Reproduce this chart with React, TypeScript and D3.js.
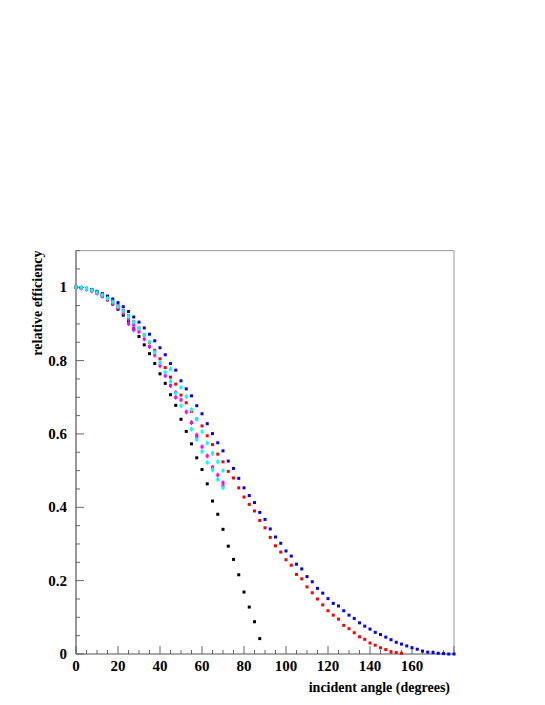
import React from "react";
import * as d3 from "d3";

const angles = [0, 2.5, 5, 7.5, 10, 12.5, 15, 17.5, 20, 22.5, 25, 27.5, 30, 32.5, 35, 37.5, 40, 42.5, 45, 47.5, 50, 52.5, 55, 57.5, 60, 62.5, 65, 67.5, 70, 72.5, 75, 77.5, 80, 82.5, 85, 87.5, 90, 92.5, 95, 97.5, 100, 102.5, 105, 107.5, 110, 112.5, 115, 117.5, 120, 122.5, 125, 127.5, 130, 132.5, 135, 137.5, 140, 142.5, 145, 147.5, 150, 152.5, 155, 157.5, 160, 162.5, 165, 167.5, 170, 172.5, 175, 177.5, 180];

const blackVals = [1.0, 0.999, 0.996, 0.991, 0.985, 0.976, 0.966, 0.954, 0.94, 0.924, 0.906, 0.887, 0.866, 0.843, 0.819, 0.792, 0.764, 0.738, 0.707, 0.678, 0.64, 0.607, 0.573, 0.535, 0.503, 0.464, 0.417, 0.381, 0.34, 0.294, 0.258, 0.216, 0.169, 0.128, 0.088, 0.042];

const redVals = [1.0, 0.999, 0.997, 0.993, 0.987, 0.98, 0.972, 0.961, 0.95, 0.937, 0.922, 0.906, 0.889, 0.87, 0.849, 0.828, 0.805, 0.781, 0.755, 0.736, 0.706, 0.685, 0.662, 0.641, 0.622, 0.595, 0.571, 0.545, 0.524, 0.498, 0.48, 0.453, 0.428, 0.408, 0.39, 0.364, 0.344, 0.318, 0.295, 0.278, 0.257, 0.242, 0.217, 0.205, 0.183, 0.167, 0.15, 0.134, 0.118, 0.106, 0.095, 0.078, 0.069, 0.058, 0.047, 0.04, 0.03, 0.024, 0.017, 0.012, 0.006, 0.004, 0.002];

const blueVals = [1.0, 0.999, 0.997, 0.994, 0.989, 0.983, 0.976, 0.968, 0.958, 0.947, 0.934, 0.919, 0.905, 0.889, 0.872, 0.854, 0.835, 0.816, 0.792, 0.774, 0.745, 0.723, 0.704, 0.677, 0.655, 0.628, 0.601, 0.576, 0.554, 0.526, 0.506, 0.479, 0.453, 0.432, 0.413, 0.386, 0.367, 0.341, 0.319, 0.302, 0.281, 0.267, 0.245, 0.232, 0.211, 0.197, 0.179, 0.166, 0.151, 0.138, 0.131, 0.118, 0.106, 0.097, 0.085, 0.076, 0.068, 0.059, 0.053, 0.046, 0.039, 0.032, 0.027, 0.022, 0.017, 0.013, 0.008, 0.005, 0.004, 0.002, 0.001, 0.0, 0.0];

const magentaVals = [1.0, 0.998, 0.995, 0.99, 0.984, 0.976, 0.967, 0.956, 0.944, 0.93, 0.914, 0.897, 0.879, 0.859, 0.838, 0.815, 0.786, 0.759, 0.732, 0.713, 0.693, 0.66, 0.631, 0.597, 0.565, 0.54, 0.509, 0.488, 0.467];
const magenta2Angles = [25, 27.5, 47.5, 57.5, 70];
const magenta2Vals = [0.901, 0.884, 0.7, 0.592, 0.458];

const cyanVals = [1.0, 0.999, 0.996, 0.992, 0.986, 0.979, 0.97, 0.96, 0.948, 0.935, 0.92, 0.905, 0.888, 0.87, 0.851, 0.823, 0.795, 0.768, 0.777, 0.711, 0.727, 0.702, 0.666, 0.64, 0.606, 0.575, 0.547, 0.524, 0.5];
const cyan2Angles = [45, 50, 55, 57.5, 60, 62.5, 65, 67.5, 70];
const cyan2Vals = [0.743, 0.677, 0.613, 0.585, 0.552, 0.522, 0.502, 0.476, 0.453];

const xTicks = [0, 20, 40, 60, 80, 100, 120, 140, 160];
const yTicks = [0, 0.2, 0.4, 0.6, 0.8, 1];

const W = 545, H = 705;
const L = 76, R = 454, T = 250.6, B = 654;

export default function App() {
  const x = d3.scaleLinear().domain([0, 180]).range([L, R]);
  const y = d3.scaleLinear().domain([0, 1.1]).range([B, T]);
  const font = "'Liberation Serif', 'Times New Roman', serif";

  const mk = (xs: number[], vs: number[]) => vs.map((v, i) => [xs[i], v] as [number, number]);
  const series: { pts: [number, number][]; color: string; err?: boolean }[] = [
    { pts: mk(angles, blackVals), color: "#000000" },
    { pts: mk(angles, redVals), color: "#ff0000" },
    { pts: mk(angles, blueVals), color: "#0000ff" },
    { pts: mk(angles, magentaVals), color: "#ff00ff", err: true },
    { pts: mk(magenta2Angles, magenta2Vals), color: "#ff00ff", err: true },
    { pts: mk(angles, cyanVals), color: "#00ffff", err: true },
    { pts: mk(cyan2Angles, cyan2Vals), color: "#00ffff", err: true },
  ];

  const xMinor = d3.range(0, 181, 5);
  const yMinor = d3.range(0, 1.101, 0.05);

  return (
    <svg width={W} height={H} style={{ position: "absolute", left: 0, top: 0, background: "#fff" }}>
      <rect x={0} y={0} width={W} height={H} fill="#fff" />
      {/* frame */}
      <line x1={L} y1={T} x2={R} y2={T} stroke="#999" strokeWidth={1} />
      <line x1={R} y1={T} x2={R} y2={B} stroke="#999" strokeWidth={1} />
      {/* minor ticks */}
      {xMinor.map((t) => (
        <line key={"xm" + t} x1={x(t)} x2={x(t)} y1={B} y2={B - (t % 20 === 0 ? 8 : 4)} stroke="#666" strokeWidth={1} />
      ))}
      {yMinor.map((t) => {
        const major = Math.abs(t * 5 - Math.round(t * 5)) < 1e-6;
        return <line key={"ym" + t} x1={L} x2={L + (major ? 8 : 4)} y1={y(t)} y2={y(t)} stroke="#666" strokeWidth={1} />;
      })}
      <line x1={L} y1={T} x2={L} y2={B} stroke="#555" strokeWidth={1.2} />
      <line x1={L} y1={B} x2={R} y2={B} stroke="#555" strokeWidth={1.2} />
      {/* tick labels */}
      {xTicks.map((t) => (
        <text key={"xl" + t} x={x(t)} y={B + 17} textAnchor="middle" fontFamily={font} fontWeight="bold" fontSize={15}>
          {t}
        </text>
      ))}
      {yTicks.map((t) => (
        <text key={"yl" + t} x={67} y={y(t) + 5} textAnchor="end" fontFamily={font} fontWeight="bold" fontSize={15}>
          {t === 0 || t === 1 ? String(t) : t.toFixed(1)}
        </text>
      ))}
      <text x={450} y={692} textAnchor="end" fontFamily={font} fontWeight="bold" fontSize={14}>
        incident angle (degrees)
      </text>
      <text transform={`translate(42,${T}) rotate(-90)`} textAnchor="end" fontFamily={font} fontWeight="bold" fontSize={14}>
        relative efficiency
      </text>
      {/* points */}
      {series.map((s, si) => (
        <g key={si}>
          {s.pts.map(([a, v], i) => (
            <g key={i}>
              {s.err && <line x1={x(a)} x2={x(a)} y1={y(v) - 2.5} y2={y(v) + 2.5} stroke={s.color} strokeWidth={1} />}
              <rect x={x(a) - 1.5} y={y(v) - 1.5} width={3} height={3} fill={s.color} />
            </g>
          ))}
        </g>
      ))}
    </svg>
  );
}
